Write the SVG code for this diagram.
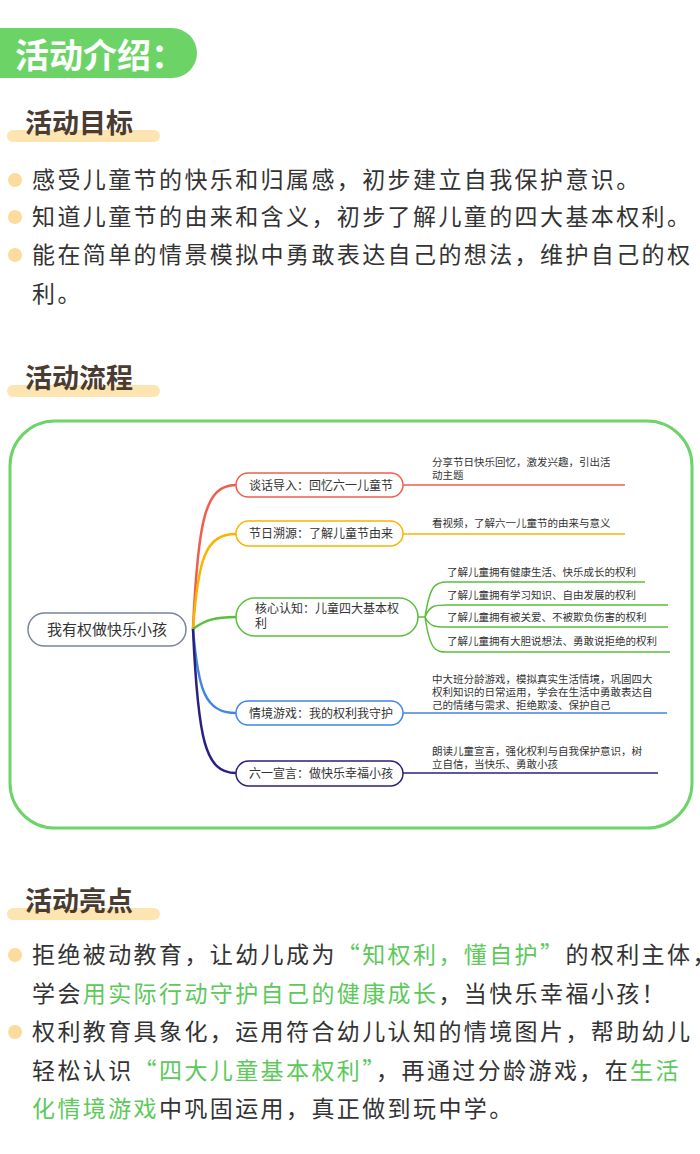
<svg xmlns="http://www.w3.org/2000/svg" width="700" height="1154" viewBox="0 0 700 1154">
<style>
text{font-family:"Noto Sans CJK SC","Noto Sans",sans-serif}
.h{font-size:27px;font-weight:bold;fill:#4a3c30}
.hl{fill:#fde5b2}
.b{font-size:23px;fill:#333;letter-spacing:2.4px}
.dot{fill:#fddb9c}
.g{fill:#5cc95a}
.n{font-size:12px;fill:#333}
.s{font-size:10.5px;fill:#333}
.nd{fill:#fff;stroke-width:1.5}
.c{fill:none;stroke-width:2.5}
.l{fill:none;stroke-width:1.5}
</style>
<rect width="700" height="1154" fill="#fff"/>
<g id="header">
<path d="M0,28 H172 A25,25 0 0 1 172,78 H0 Z" fill="#6cd467"/>
<text x="15" y="68" font-size="34" font-weight="bold" fill="#fff">活动介绍：</text>
</g>
<g id="goals">
<rect class="hl" x="7" y="130" width="153" height="12" rx="6"/>
<text class="h" x="25" y="133">活动目标</text>
<circle class="dot" cx="15" cy="180" r="7"/>
<text class="b" x="32" y="188">感受儿童节的快乐和归属感，初步建立自我保护意识。</text>
<circle class="dot" cx="15" cy="217" r="7"/>
<text class="b" x="32" y="225">知道儿童节的由来和含义，初步了解儿童的四大基本权利。</text>
<circle class="dot" cx="15" cy="255" r="7"/>
<text class="b" x="32" y="263">能在简单的情景模拟中勇敢表达自己的想法，维护自己的权</text>
<text class="b" x="32" y="302">利。</text>
</g>
<g id="flow-title">
<rect class="hl" x="7" y="385" width="153" height="12" rx="6"/>
<text class="h" x="25" y="388">活动流程</text>
</g>
<rect x="10" y="421" width="682" height="407" rx="45" fill="none" stroke="#6dd46a" stroke-width="3"/>
<g id="connectors">
<path class="c" stroke="#f25c4f" d="M193,629 C198,520 205,485 236,485"/>
<path class="c" stroke="#f8b400" d="M193,629 C198,560 205,534 236,534"/>
<path class="c" stroke="#5bbf3c" d="M193,629 C205,620 215,617 236,617"/>
<path class="c" stroke="#3f87e0" d="M193,629 C198,690 205,713 236,713"/>
<path class="c" stroke="#2a2080" d="M193,629 C198,740 205,773 236,773"/>
<path class="l" stroke="#f25c4f" d="M403,485 H625"/>
<path class="l" stroke="#f8b400" d="M403,534 H625"/>
<path class="l" stroke="#3f87e0" d="M403,713 H667"/>
<path class="l" stroke="#2a2080" d="M403,773 H658"/>
<path class="l" stroke="#5bbf3c" d="M418,617 H425 C430,585 435,582 447,582 H645 M425,617 C430,605 435,605 447,605 H668 M425,617 C430,627 435,627 447,627 H668 M425,617 C430,650 435,652 447,652 H670"/>
</g>
<g id="root">
<rect x="28" y="613" width="158" height="33" rx="16.5" fill="#fff" stroke="#7a8599" stroke-width="1.5"/>
<text x="107" y="635" font-size="15" text-anchor="middle" fill="#333">我有权做快乐小孩</text>
</g>
<g id="n1">
<rect class="nd" stroke="#f25c4f" x="236" y="473" width="167" height="24" rx="12"/>
<text class="n" x="249" y="490">谈话导入：回忆六一儿童节</text>
<text class="s" x="432" y="466">分享节日快乐回忆，激发兴趣，引出活</text>
<text class="s" x="432" y="479">动主题</text>
</g>
<g id="n2">
<rect class="nd" stroke="#f8b400" x="236" y="521" width="167" height="25" rx="12.5"/>
<text class="n" x="249" y="538">节日溯源：了解儿童节由来</text>
<text class="s" x="432" y="527">看视频，了解六一儿童节的由来与意义</text>
</g>
<g id="n3">
<rect class="nd" stroke="#5bbf3c" x="236" y="598" width="182" height="38" rx="19"/>
<text class="n" x="255" y="613">核心认知：儿童四大基本权</text>
<text class="n" x="255" y="628">利</text>
<text class="s" x="447" y="576">了解儿童拥有健康生活、快乐成长的权利</text>
<text class="s" x="447" y="599">了解儿童拥有学习知识、自由发展的权利</text>
<text class="s" x="447" y="621">了解儿童拥有被关爱、不被欺负伤害的权利</text>
<text class="s" x="447" y="645">了解儿童拥有大胆说想法、勇敢说拒绝的权利</text>
</g>
<g id="n4">
<rect class="nd" stroke="#3f87e0" x="236" y="701" width="167" height="24" rx="12"/>
<text class="n" x="249" y="718">情境游戏：我的权利我守护</text>
<text class="s" x="432" y="683">中大班分龄游戏，模拟真实生活情境，巩固四大</text>
<text class="s" x="432" y="696">权利知识的日常运用，学会在生活中勇敢表达自</text>
<text class="s" x="432" y="709">己的情绪与需求、拒绝欺凌、保护自己</text>
</g>
<g id="n5">
<rect class="nd" stroke="#2a2080" x="236" y="761" width="167" height="25" rx="12.5"/>
<text class="n" x="249" y="778">六一宣言：做快乐幸福小孩</text>
<text class="s" x="432" y="755">朗读儿童宣言，强化权利与自我保护意识，树</text>
<text class="s" x="432" y="768">立自信，当快乐、勇敢小孩</text>
</g>
<g id="highlights">
<rect class="hl" x="7" y="908" width="153" height="12" rx="6"/>
<text class="h" x="25" y="911">活动亮点</text>
<circle class="dot" cx="15" cy="955" r="7"/>
<text class="b" x="32" y="963" letter-spacing="0.9">拒绝被动教育，让幼儿成为<tspan class="g">“知权利，懂自护”</tspan>的权利主体，</text>
<text class="b" x="32" y="1002">学会<tspan class="g">用实际行动守护自己的健康成长</tspan>，当快乐幸福小孩！</text>
<circle class="dot" cx="15" cy="1032" r="7"/>
<text class="b" x="32" y="1040" letter-spacing="3">权利教育具象化，运用符合幼儿认知的情境图片，帮助幼儿</text>
<text class="b" x="32" y="1079" letter-spacing="1.4">轻松认识<tspan class="g">“四大儿童基本权利”</tspan>，再通过分龄游戏，在<tspan class="g">生活</tspan></text>
<text class="b" x="32" y="1117"><tspan class="g">化情境游戏</tspan>中巩固运用，真正做到玩中学。</text>
</g>
</svg>
